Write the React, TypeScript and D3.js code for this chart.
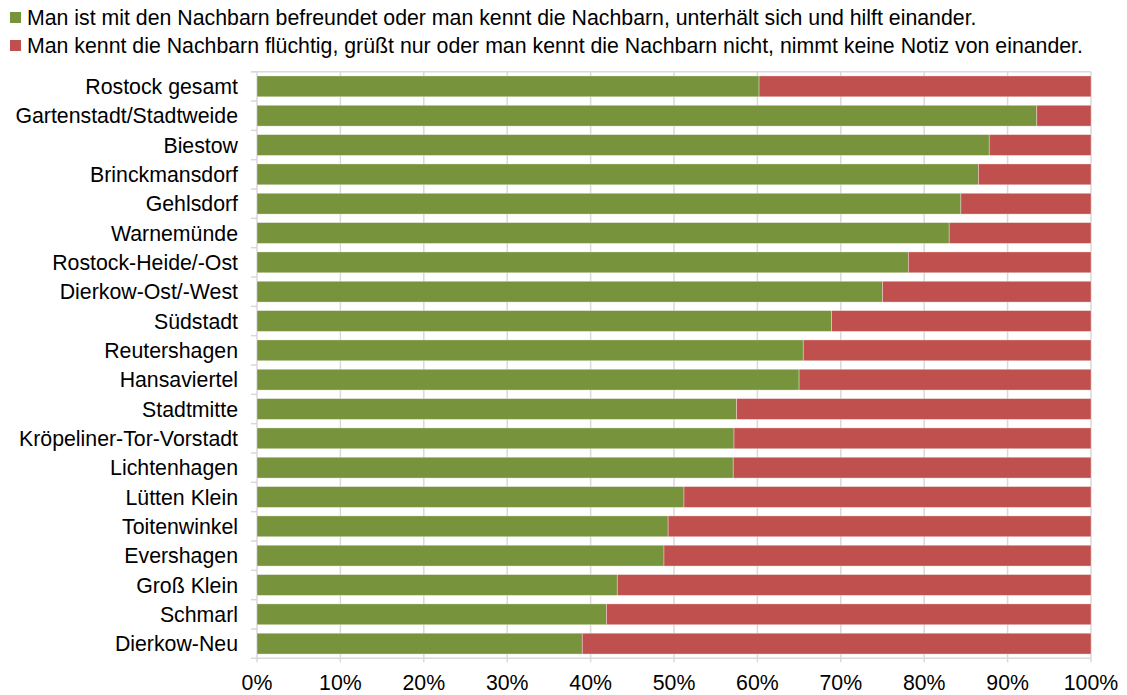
import React, { useEffect, useRef } from 'react';
import * as d3 from 'd3';

const categories = [
  'Rostock gesamt',
  'Gartenstadt/Stadtweide',
  'Biestow',
  'Brinckmansdorf',
  'Gehlsdorf',
  'Warnemünde',
  'Rostock-Heide/-Ost',
  'Dierkow-Ost/-West',
  'Südstadt',
  'Reutershagen',
  'Hansaviertel',
  'Stadtmitte',
  'Kröpeliner-Tor-Vorstadt',
  'Lichtenhagen',
  'Lütten Klein',
  'Toitenwinkel',
  'Evershagen',
  'Groß Klein',
  'Schmarl',
  'Dierkow-Neu',
];

// share "befreundet / unterhält sich" in percent
const friendlyValues = [
  60.2, 93.5, 87.8, 86.5, 84.4, 83.0, 78.1, 75.0, 68.9, 65.5,
  65.0, 57.5, 57.2, 57.1, 51.2, 49.3, 48.8, 43.2, 41.9, 39.0,
];

const seriesNames = [
  'Man ist mit den Nachbarn befreundet oder man kennt die Nachbarn, unterhält sich und hilft einander.',
  'Man kennt die Nachbarn flüchtig, grüßt nur oder man kennt die Nachbarn nicht, nimmt keine Notiz von einander.',
];

const tickValues = [0, 10, 20, 30, 40, 50, 60, 70, 80, 90, 100];

const colors = ['#77933C', '#C0504D'];

const App = () => {
  const svgRef = useRef<SVGSVGElement>(null);

  useEffect(() => {
    const width = 1127;
    const height = 695;
    const margin = { top: 71.7, right: 36, bottom: 36.7, left: 257 };
    const font = 'Arial, "Liberation Sans", sans-serif';
    const fontSize = '21.3px';

    const svg = d3.select(svgRef.current);
    svg.selectAll('*').remove();
    svg.attr('width', width).attr('height', height);

    const x = d3
      .scaleLinear()
      .domain([0, 100])
      .range([margin.left, width - margin.right]);

    const y = d3
      .scaleBand()
      .domain(categories)
      .range([margin.top, height - margin.bottom])
      .paddingInner(0.29)
      .paddingOuter(0.145);

    const rowStep = (height - margin.bottom - margin.top) / categories.length;
    const grid = '#d9d9d9';

    // vertical gridlines
    svg
      .append('g')
      .selectAll('line')
      .data(tickValues)
      .enter()
      .append('line')
      .attr('x1', d => x(d))
      .attr('x2', d => x(d))
      .attr('y1', margin.top)
      .attr('y2', height - margin.bottom + 4)
      .attr('stroke', grid)
      .attr('stroke-width', 1.5);

    // top border + bottom axis line
    [margin.top, height - margin.bottom].forEach(yy => {
      svg
        .append('line')
        .attr('x1', margin.left - (yy === margin.top ? 6 : 0))
        .attr('x2', width - margin.right)
        .attr('y1', yy)
        .attr('y2', yy)
        .attr('stroke', grid)
        .attr('stroke-width', 1.5);
    });

    // category tick marks
    svg
      .append('g')
      .selectAll('line')
      .data(d3.range(categories.length + 1))
      .enter()
      .append('line')
      .attr('x1', margin.left - 6)
      .attr('x2', margin.left)
      .attr('y1', i => margin.top + i * rowStep)
      .attr('y2', i => margin.top + i * rowStep)
      .attr('stroke', grid)
      .attr('stroke-width', 1.5);

    // bars
    const rows = svg
      .append('g')
      .selectAll('g')
      .data(categories)
      .enter()
      .append('g');

    rows
      .append('rect')
      .attr('x', x(0))
      .attr('y', d => y(d)!)
      .attr('width', (d, i) => x(friendlyValues[i]) - x(0))
      .attr('height', y.bandwidth())
      .attr('fill', colors[0])
      .attr('stroke', 'rgba(255,255,255,0.45)')
      .attr('stroke-width', 0.75);

    rows
      .append('rect')
      .attr('x', (d, i) => x(friendlyValues[i]))
      .attr('y', d => y(d)!)
      .attr('width', (d, i) => x(100) - x(friendlyValues[i]))
      .attr('height', y.bandwidth())
      .attr('fill', colors[1])
      .attr('stroke', 'rgba(255,255,255,0.45)')
      .attr('stroke-width', 0.75);

    // category labels
    svg
      .append('g')
      .selectAll('text')
      .data(categories)
      .enter()
      .append('text')
      .attr('x', margin.left - 19)
      .attr('y', d => y(d)! + y.bandwidth() / 2)
      .attr('dy', '0.36em')
      .attr('text-anchor', 'end')
      .style('font-family', font)
      .style('font-size', fontSize)
      .attr('fill', '#000')
      .text(d => d);

    // x tick labels
    svg
      .append('g')
      .selectAll('text')
      .data(tickValues)
      .enter()
      .append('text')
      .attr('x', d => x(d))
      .attr('y', 690)
      .attr('text-anchor', 'middle')
      .style('font-family', font)
      .style('font-size', fontSize)
      .attr('fill', '#000')
      .text(d => `${d}%`);

    // legend
    const legend = svg
      .append('g')
      .selectAll('g')
      .data(seriesNames)
      .enter()
      .append('g')
      .attr('transform', (d, i) => `translate(10, ${12 + i * 28})`);

    legend
      .append('rect')
      .attr('width', 11)
      .attr('height', 11)
      .attr('fill', (d, i) => colors[i]);

    legend
      .append('text')
      .attr('x', 17)
      .attr('y', 5.5)
      .attr('dy', '0.36em')
      .style('font-family', font)
      .style('font-size', fontSize)
      .attr('fill', '#000')
      .text(d => d);
  }, []);

  return (
    <svg
      ref={svgRef}
      style={{ position: 'absolute', left: 0, top: 0, background: '#fff' }}
    ></svg>
  );
};

export default App;
